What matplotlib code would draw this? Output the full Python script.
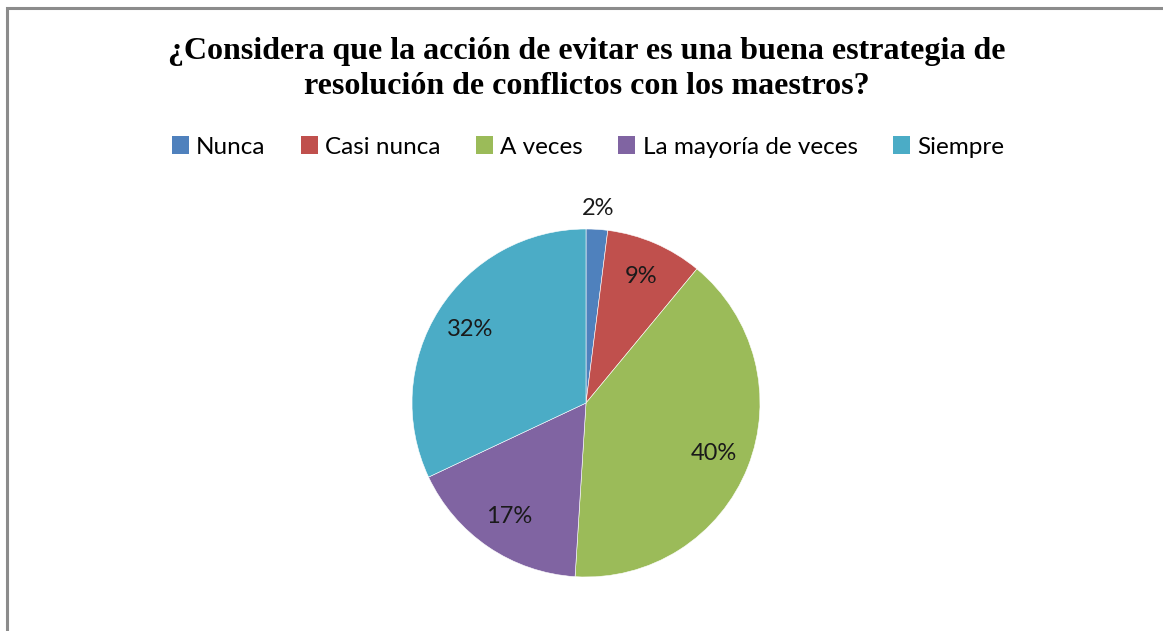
import matplotlib
matplotlib.use("Agg")
import matplotlib.pyplot as plt
from matplotlib.patches import Patch, Rectangle

# data
categorias = ["Nunca", "Casi nunca", "A veces", "La mayoría de veces", "Siempre"]
porcentajes = [2, 9, 40, 17, 32]
colores = ["#4F81BD", "#C0504D", "#9BBB59", "#8064A2", "#4BACC6"]
titulo = "¿Considera que la acción de evitar es una buena estrategia de\nresolución de conflictos con los maestros?"

W, H = 1163, 631
fig = plt.figure(figsize=(W / 100, H / 100), dpi=100)
fig.patch.set_facecolor("white")

# chart border (only left and top visible in the crop)
fig.add_artist(Rectangle((7 / W, -0.1), 1.2, (H - 8) / H + 0.1, transform=fig.transFigure,
                         fill=False, edgecolor="#8c8c8c", linewidth=2.2))

# pie centred at (586, 403) px, radius 174 px
cx, cy, r = 586, 403, 174
ax = fig.add_axes([(cx - r) / W, (H - cy - r) / H, 2 * r / W, 2 * r / H])
wedges, textos, pcts = ax.pie(porcentajes, colors=colores, startangle=90, counterclock=False,
                              autopct="%1.0f%%", pctdistance=0.79,
                              wedgeprops=dict(edgecolor="white", linewidth=0.4),
                              textprops=dict(fontsize=17, family="Lato", color="#1a1a1a"))
# the small slice label sits outside the pie
x0, y0 = pcts[0].get_position()
pcts[0].set_position((x0 * 1.12 / 0.79, y0 * 1.12 / 0.79))
ax.set_xlim(-1, 1)
ax.set_ylim(-1, 1)
ax.set_aspect("equal")
ax.axis("off")

fig.text(587 / W, 1 - 69 / H, titulo, ha="center", va="center", fontsize=23,
         family="Liberation Serif", fontweight="bold", linespacing=1.28)

handles = [Patch(facecolor=c) for c in colores]
fig.legend(handles, categorias, loc="center", bbox_to_anchor=(588 / W, 1 - 147 / H), ncol=5,
           frameon=False, prop=dict(family="Lato", size=17.5), handlelength=0.7, handleheight=0.7,
           handletextpad=0.3, columnspacing=1.45)

fig.savefig("out.png", dpi=100, facecolor="white")
